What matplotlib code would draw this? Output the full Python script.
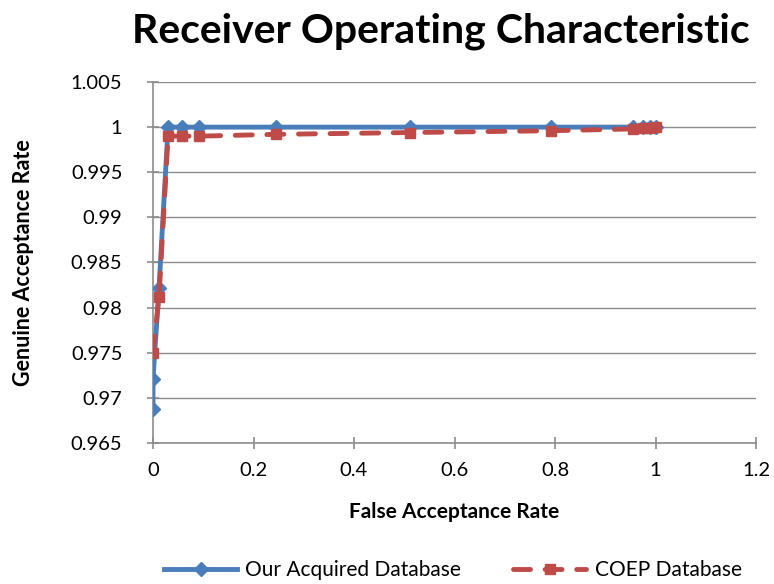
import matplotlib
matplotlib.use("Agg")
import matplotlib.pyplot as plt

plt.rcParams['font.family'] = ['Lato', 'DejaVu Sans']

far_ours = [0.0, 0.0, 0.012, 0.03, 0.057, 0.092, 0.245, 0.512, 0.793, 0.955, 0.975, 0.99, 1.0]
gar_ours = [0.9688, 0.9721, 0.9822, 1.0, 1.0, 1.0, 1.0, 1.0, 1.0, 1.0, 1.0, 1.0, 1.0]

far_coep = [0.0, 0.012, 0.03, 0.057, 0.092, 0.245, 0.512, 0.793, 0.955, 0.975, 0.99, 1.0]
gar_coep = [0.9750, 0.9812, 0.9990, 0.9990, 0.9990, 0.9992, 0.9994, 0.9996, 0.9998, 0.9999, 0.99995, 1.0]

x_ticks = [0, 0.2, 0.4, 0.6, 0.8, 1, 1.2]
x_labels = ['0', '0.2', '0.4', '0.6', '0.8', '1', '1.2']
y_ticks = [0.965, 0.97, 0.975, 0.98, 0.985, 0.99, 0.995, 1.0, 1.005]
y_labels = ['0.965', '0.97', '0.975', '0.98', '0.985', '0.99', '0.995', '1', '1.005']

fig = plt.figure(figsize=(7.74, 5.84), dpi=100)
ax = fig.add_axes([153/774, 1-443/584, (756-153)/774, (443-82)/584])

blue = '#4a7ebb'
red = '#be4b48'
ax.plot(far_ours, gar_ours, color=blue, lw=3.5, marker='D', ms=7, label='Our Acquired Database', zorder=3)
ax.plot(far_coep, gar_coep, color=red, lw=3.5, ls=(0, (3.5, 3)), dash_capstyle='round',
        marker='s', ms=7, label='COEP Database', zorder=4)

ax.set_xlim(0, 1.2)
ax.set_ylim(0.965, 1.005)
ax.set_xticks(x_ticks)
ax.set_xticklabels(x_labels)
ax.set_yticks(y_ticks)
ax.set_yticklabels(y_labels)
ax.yaxis.grid(True, color='#8c8c8c', lw=1)
ax.set_axisbelow(True)
for s in ['top', 'right']:
    ax.spines[s].set_visible(False)
for s in ['left', 'bottom']:
    ax.spines[s].set_color('#8c8c8c')
    ax.spines[s].set_linewidth(1.2)
ax.tick_params(axis='both', colors='#8c8c8c', labelcolor='black', labelsize=14.5,
               length=8, width=1.2, direction='inout')
ax.tick_params(axis='x', pad=10)
ax.tick_params(axis='y', pad=18)

ax.set_xlabel('False Acceptance Rate', fontsize=15, fontweight='bold', labelpad=16)
ax.set_ylabel('Genuine Acceptance Rate', fontsize=15.5, fontweight='bold', labelpad=16)
ax.yaxis.set_label_coords(-0.197, 0.5)
fig.suptitle('Receiver Operating Characteristic', fontsize=29.5, fontweight='bold', x=0.57, y=0.978)

fig.legend(loc='lower center', bbox_to_anchor=(0.585, -0.025), ncol=2, frameon=False, fontsize=15,
           handlelength=3.5, columnspacing=2.5, handletextpad=0.4)

fig.savefig('out.png', dpi=100)
